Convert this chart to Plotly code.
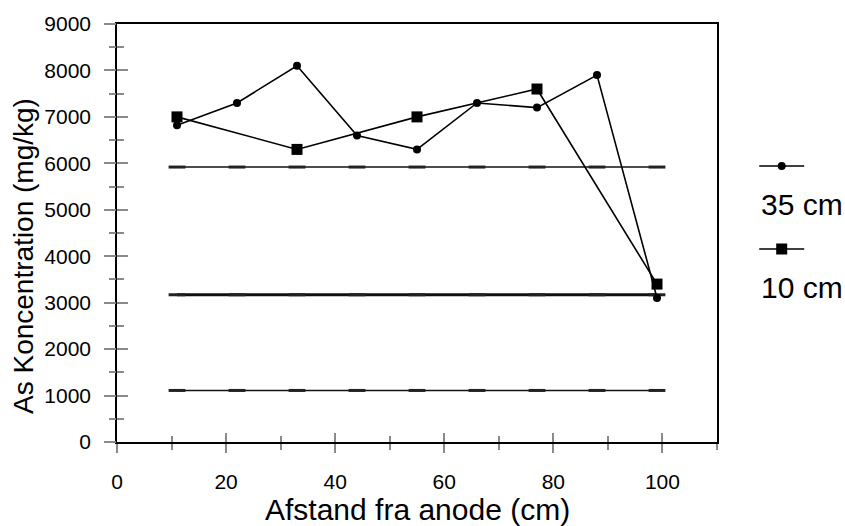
import plotly.graph_objects as go

# Sampling positions along the cell (cm from the anode)
x_35 = [11, 22, 33, 44, 55, 66, 77, 88, 99]
y_35 = [6820, 7300, 8100, 6600, 6300, 7300, 7200, 7900, 3100]

x_10 = [11, 33, 55, 77, 99]
y_10 = [7000, 6300, 7000, 7600, 3400]

# Reference levels drawn across the sampling positions
ref_x = [11, 22, 33, 44, 55, 66, 77, 88, 99]
ref_levels = [5920, 3170, 1110]
ref_widths = [1.6, 3.2, 1.6]

x_ticks = [0, 20, 40, 60, 80, 100]
y_ticks = [0, 1000, 2000, 3000, 4000, 5000, 6000, 7000, 8000, 9000]

FONT = "Liberation Sans, Arial, sans-serif"
TICK_GREY = "#8a8a8a"
CLEAR = "rgba(0,0,0,0)"
TICK_FONT = dict(family=FONT, size=21, color="black")

fig = go.Figure()

for lvl, w in zip(ref_levels, ref_widths):
    fig.add_trace(go.Scatter(
        x=ref_x, y=[lvl] * len(ref_x), mode="lines+markers",
        line=dict(color="#111111", width=w),
        marker=dict(symbol="line-ew", size=12, line=dict(color="#222222", width=3)),
        showlegend=False, hoverinfo="skip"))

fig.add_trace(go.Scatter(
    x=x_35, y=y_35, mode="lines+markers", name="",
    legendgroup="a",
    line=dict(color="black", width=1.6),
    marker=dict(symbol="circle", size=8, color="black")))

fig.add_trace(go.Scatter(
    x=x_10, y=y_10, mode="lines+markers", name="",
    legendgroup="b",
    line=dict(color="black", width=1.6),
    marker=dict(symbol="square", size=11, color="black")))

axis_common = dict(showgrid=False, zeroline=False)


def tick_axis(rng, vals, minor_step, side_ticks, major_len, minor_len, **kw):
    """Label-free axis that only draws one half of the crossing tick marks."""
    return dict(range=rng, tickvals=vals, ticks=side_ticks, ticklen=major_len,
                tickcolor=TICK_GREY, tickwidth=1.5, showticklabels=False,
                showline=False,
                minor=dict(dtick=minor_step, tick0=0, ticks=side_ticks,
                           ticklen=minor_len, tickcolor=TICK_GREY, tickwidth=1.5),
                **axis_common, **kw)


fig.update_layout(
    width=845, height=526,
    margin=dict(l=117, r=128, t=22, b=84),
    paper_bgcolor="white", plot_bgcolor="white",
    font=dict(family=FONT, color="black", size=20),
    xaxis=dict(range=[0, 110], tickvals=x_ticks, ticks="outside", ticklen=9,
               tickcolor=TICK_GREY, tickwidth=1.5,
               minor=dict(dtick=10, tick0=0, ticks="outside", ticklen=6,
                          tickcolor=TICK_GREY, tickwidth=1.5),
               showline=True, linecolor="black", linewidth=1.6, mirror=True,
               tickfont=TICK_FONT, ticklabelstandoff=11, **axis_common),
    # main y axis: labels only, pushed out by a transparent tick length
    yaxis=dict(range=[0, 9000], tickvals=y_ticks, ticks="outside", ticklen=20,
               tickcolor=CLEAR, tickwidth=1,
               showline=True, linecolor="black", linewidth=1.6, mirror=True,
               tickfont=TICK_FONT, **axis_common),
    xaxis2=tick_axis([0, 110], x_ticks, 10, "inside", 9, 6,
                     overlaying="x", anchor="y", side="bottom"),
    yaxis2=tick_axis([0, 9000], y_ticks, 500, "outside", 12, 7,
                     overlaying="y", anchor="x", side="left"),
    yaxis3=tick_axis([0, 9000], y_ticks, 500, "inside", 11, 7,
                     overlaying="y", anchor="x", side="left"),
    legend=dict(x=1.062, y=0.707, xanchor="left", yanchor="top",
                traceorder="grouped", tracegroupgap=54, itemwidth=45,
                font=dict(size=20), bgcolor=CLEAR),
    annotations=[
        dict(text="Afstand fra anode (cm)", xref="paper", yref="paper",
             x=0.5, y=0, yshift=-67, xanchor="center", yanchor="middle",
             showarrow=False, font=dict(size=30)),
        dict(text="As Koncentration (mg/kg)", xref="paper", yref="paper",
             x=0, y=0.445, xshift=-93, xanchor="center", yanchor="middle",
             textangle=-90, showarrow=False, font=dict(size=28)),
        dict(text="35 cm", xref="paper", yref="paper",
             x=1.07, y=0.567, xanchor="left", yanchor="middle",
             showarrow=False, font=dict(size=30)),
        dict(text="10 cm", xref="paper", yref="paper",
             x=1.07, y=0.369, xanchor="left", yanchor="middle",
             showarrow=False, font=dict(size=30)),
    ],
)

# empty traces bind the overlay axes so their ticks are drawn
fig.add_trace(go.Scatter(x=[None], y=[None], xaxis="x2", yaxis="y2",
                         showlegend=False, hoverinfo="skip"))
fig.add_trace(go.Scatter(x=[None], y=[None], xaxis="x", yaxis="y3",
                         showlegend=False, hoverinfo="skip"))

fig.write_html("out.html")
